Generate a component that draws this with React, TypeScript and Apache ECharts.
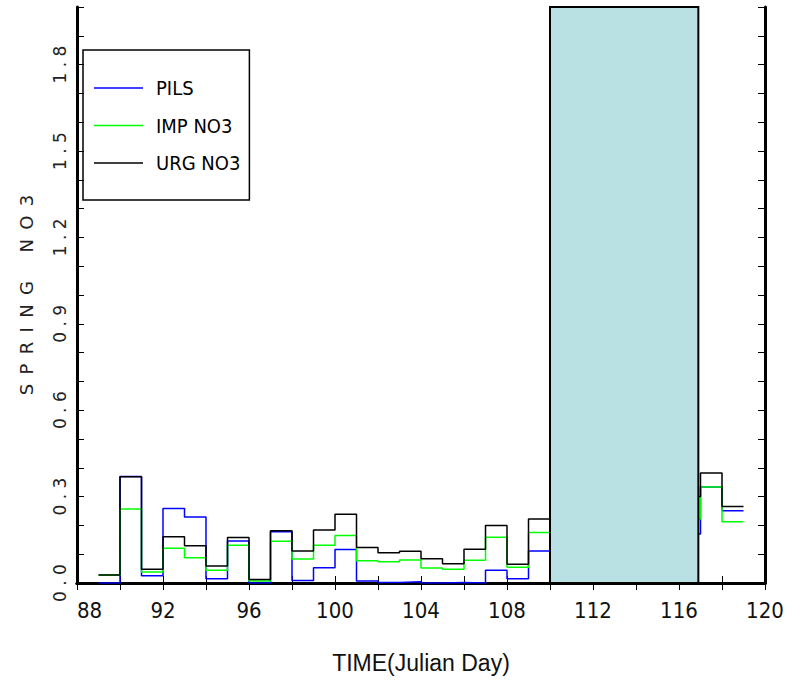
import React, { useEffect, useRef } from "react";
import * as echarts from "echarts";

const days = [89, 90, 91, 92, 93, 94, 95, 96, 97, 98, 99, 100, 101, 102, 103, 104, 105, 106, 107, 108, 109, 110, 111, 112, 113, 114, 115, 116, 117, 118];
const pils = [0.0, 0.37, 0.025, 0.259, 0.229, 0.015, 0.146, 0.0, 0.178, 0.009, 0.053, 0.116, 0.007, 0.002, 0.004, 0.0, 0.002, 0.0, 0.044, 0.015, 0.111, null, null, null, null, null, null, 0.17, 0.333, 0.251];
const impNO3 = [0.028, 0.257, 0.038, 0.121, 0.088, 0.044, 0.131, 0.007, 0.145, 0.083, 0.131, 0.165, 0.077, 0.074, 0.08, 0.052, 0.048, 0.079, 0.159, 0.055, 0.175, null, null, null, null, null, null, 0.222, 0.333, 0.213];
const urgNO3 = [0.028, 0.369, 0.048, 0.161, 0.129, 0.059, 0.158, 0.012, 0.181, 0.111, 0.184, 0.239, 0.123, 0.105, 0.11, 0.084, 0.067, 0.117, 0.2, 0.065, 0.222, null, null, null, null, null, null, 0.3, 0.382, 0.266];
const seriesNames = ["PILS", "IMP NO3", "URG NO3"];
const seriesColors = ["#0000ff", "#00ff00", "#000000"];
const shadedPeriod = [110, 116.9];
const xTicks = [88, 120, 2];
const yTicks = [0, 2.0, 0.1];

const SP = "\u00a0";
const TH = "\u2009";

function stepData(vals: (number | null)[]) {
  const out: any[] = [];
  for (let i = 0; i < days.length; i++) {
    const v = vals[i];
    if (v === null) {
      out.push([days[i], null]);
    } else {
      out.push([days[i], v]);
      out.push([days[i] + 1, v]);
    }
  }
  return out;
}

function spaced(s: string, sep: string) {
  return s.split("").join(sep);
}

export default function App() {
  const ref = useRef<HTMLDivElement>(null);
  useEffect(() => {
    document.body.style.margin = "0";
    const chart = echarts.init(ref.current!, null, { renderer: "svg" });
    const narrow = "'Liberation Sans Narrow', 'DejaVu Sans Condensed', sans-serif";
    const axisCommon = {
      type: "value" as const,
      axisLine: { show: true, lineStyle: { color: "#000", width: 3 } },
      axisTick: { show: true, inside: true, length: 7, lineStyle: { color: "#000", width: 1 } },
      splitLine: { show: false },
    };
    const yName = spaced("SPRING", SP + TH) + SP + SP + SP + SP + SP + spaced("NO3", SP + TH);
    const allData = [pils, impNO3, urgNO3];
    chart.setOption({
      animation: false,
      backgroundColor: "#fff",
      grid: { left: 77, right: 35, top: 7, bottom: 101, outerBoundsMode: "none" },
      legend: {
        data: seriesNames.map((n) => ({ name: n, icon: "rect" })),
        orient: "vertical",
        left: 83,
        top: 50,
        padding: [28, 9, 27, 11],
        itemWidth: 49,
        itemHeight: 1.5,
        itemGap: 17.5,
        borderColor: "#000",
        borderWidth: 1.5,
        textStyle: {
          fontFamily: narrow,
          fontSize: 20,
          color: "#000",
          lineHeight: 20,
          padding: [0, 0, 0, 8],
        },
      },
      xAxis: [
        {
          ...axisCommon,
          position: "bottom",
          min: xTicks[0],
          max: xTicks[1],
          interval: xTicks[2],
          name: "TIME(Julian Day)",
          nameLocation: "middle",
          nameGap: 68,
          nameTextStyle: { fontFamily: "'Liberation Sans', Arial, sans-serif", fontSize: 23, color: "#111" },
          axisLabel: {
            show: true,
            margin: 16,
            fontFamily: narrow,
            fontSize: 22,
            color: "#111",
            alignMinLabel: "left",
            formatter: (v: number) => ((v - xTicks[0]) % 4 === 0 ? String(v) : ""),
          },
        },
        {
          ...axisCommon,
          position: "top",
          min: xTicks[0],
          max: xTicks[1],
          interval: xTicks[2],
          axisLabel: { show: false },
        },
      ],
      yAxis: [
        {
          ...axisCommon,
          position: "left",
          min: yTicks[0],
          max: yTicks[1],
          interval: yTicks[2],
          name: yName,
          nameLocation: "middle",
          nameRotate: 90,
          nameGap: 42,
          nameTextStyle: { fontFamily: "'DejaVu Sans', sans-serif", fontSize: 18, color: "#222" },
          axisLabel: {
            show: true,
            rotate: 90,
            margin: 9,
            fontFamily: "'DejaVu Sans', sans-serif",
            fontSize: 17,
            color: "#222",
            formatter: (v: number) => {
              const k = Math.round(v * 10);
              if (k % 3 !== 0) return "";
              return spaced(v.toFixed(1), SP);
            },
          },
        },
        {
          ...axisCommon,
          position: "right",
          min: yTicks[0],
          max: yTicks[1],
          interval: yTicks[2],
          axisLabel: { show: false },
        },
      ],
      series: [
        ...seriesNames.map((name, i) => ({
          name,
          type: "line",
          xAxisIndex: 0,
          yAxisIndex: 0,
          data: stepData(allData[i]),
          symbol: "none",
          showSymbol: false,
          connectNulls: false,
          lineStyle: { color: seriesColors[i], width: 1.5 },
          itemStyle: { color: seriesColors[i] },
          z: 2,
        })),
        {
          name: "shaded",
          type: "custom",
          xAxisIndex: 0,
          yAxisIndex: 0,
          z: 5,
          silent: true,
          encode: { x: [0, 1], y: 2 },
          data: [[shadedPeriod[0], shadedPeriod[1], yTicks[1]]],
          renderItem: (params: any, api: any) => {
            const p0 = api.coord([api.value(0), api.value(2)]);
            const p1 = api.coord([api.value(1), 0]);
            return {
              type: "rect",
              shape: { x: p0[0], y: p0[1], width: p1[0] - p0[0], height: p1[1] - p0[1] },
              style: { fill: "#b9e0e3", stroke: "#000", lineWidth: 2 },
            };
          },
        },
      ],
    });
    return () => chart.dispose();
  }, []);
  return <div ref={ref} style={{ width: 800, height: 684 }} />;
}
